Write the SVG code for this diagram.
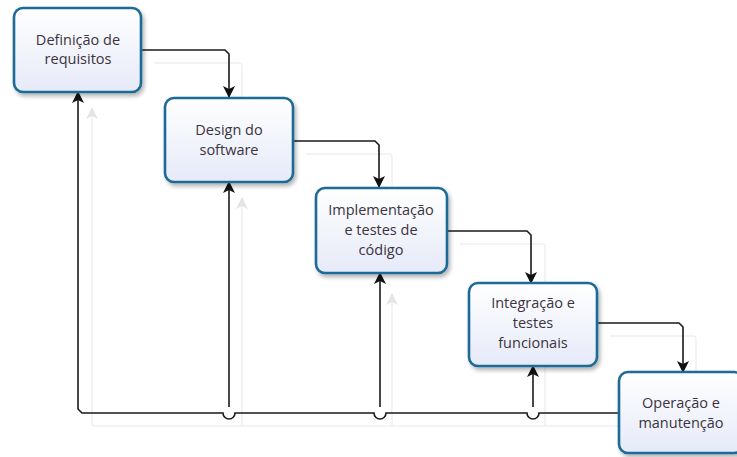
<svg xmlns="http://www.w3.org/2000/svg" width="737" height="457" viewBox="0 0 737 457">
  <style>
    .box { fill: url(#boxFill); stroke: #1d6a96; stroke-width: 2.6; filter: url(#shadow); }
    .lbl { font-family: "Open Sans", "Noto Sans", sans-serif; font-size: 14.5px; fill: #3a3340; text-anchor: middle; }
    .wire { fill: none; stroke: #1a1a1a; stroke-width: 1.6; }
    .ghost { fill: none; stroke: #f0f0f0; stroke-width: 1.6; }
  </style>
  <defs>
    <linearGradient id="boxFill" x1="0" y1="0" x2="0" y2="1">
      <stop offset="0" stop-color="#ffffff"/>
      <stop offset="1" stop-color="#e6eaf8"/>
    </linearGradient>
    <filter id="shadow" x="-10%" y="-10%" width="130%" height="130%">
      <feGaussianBlur in="SourceAlpha" stdDeviation="2"/>
      <feOffset dx="2" dy="3" result="b"/>
      <feComponentTransfer><feFuncA type="linear" slope="0.3"/></feComponentTransfer>
      <feMerge><feMergeNode/><feMergeNode in="SourceGraphic"/></feMerge>
    </filter>
    <marker id="arrow" viewBox="0 0 12 12" refX="11" refY="6" markerWidth="12" markerHeight="12" markerUnits="userSpaceOnUse" orient="auto">
      <path d="M0,0 L12,6 L0,12 L3,6 z" fill="#111"/>
    </marker>
    <marker id="ghostArrow" viewBox="0 0 12 12" refX="11" refY="6" markerWidth="12" markerHeight="12" markerUnits="userSpaceOnUse" orient="auto">
      <path d="M0,0 L12,6 L0,12 L3,6 z" fill="#e4e4e4"/>
    </marker>
  </defs>

  <!-- faint reflected copies of the connectors -->
  <g id="ghost-connectors">
    <path class="ghost" d="M154,63 H239 Q242,63 242,66 V108"/>
    <path class="ghost" d="M306,154 H389 Q392,154 392,157 V198"/>
    <path class="ghost" d="M460,244 H542 Q545,244 545,247 V294"/>
    <path class="ghost" d="M610,336 H693 Q696,336 696,339 V384"/>
    <path class="ghost" d="M631,426 H95 Q92,426 92,423 V108" marker-end="url(#ghostArrow)"/>
    <path class="ghost" d="M242,426 V198" marker-end="url(#ghostArrow)"/>
    <path class="ghost" d="M392,426 V294" marker-end="url(#ghostArrow)"/>
    <path class="ghost" d="M545,426 V342" marker-end="url(#ghostArrow)"/>
  </g>

  <!-- connectors -->
  <g id="connectors">
    <path class="wire" d="M141,50 H225 L229,54 V97" marker-end="url(#arrow)"/>
    <path class="wire" d="M293,141 H375 L379,145 V187" marker-end="url(#arrow)"/>
    <path class="wire" d="M447,231 H527 L531,235 V283" marker-end="url(#arrow)"/>
    <path class="wire" d="M597,323 H679 L683,327 V372" marker-end="url(#arrow)"/>
    <path class="wire" d="M618,413 H539 A6,6 0 0 1 527,413 H386 A6,6 0 0 1 374,413 H235 A6,6 0 0 1 223,413 H82 L78,409 V92" marker-end="url(#arrow)"/>
    <path class="wire" d="M229,407 V182" marker-end="url(#arrow)"/>
    <path class="wire" d="M380,407 V273" marker-end="url(#arrow)"/>
    <path class="wire" d="M533,407 V366" marker-end="url(#arrow)"/>
  </g>

  <g id="n1">
    <rect class="box" x="14" y="8" width="127" height="84" rx="9"/>
    <text class="lbl" x="78" y="45">Definição de</text>
    <text class="lbl" x="78" y="64">requisitos</text>
  </g>
  <g id="n2">
    <rect class="box" x="165" y="98" width="128" height="84" rx="9"/>
    <text class="lbl" x="229" y="135">Design do</text>
    <text class="lbl" x="229" y="155">software</text>
  </g>
  <g id="n3">
    <rect class="box" x="316" y="188" width="131" height="85" rx="9"/>
    <text class="lbl" x="381" y="215">Implementação</text>
    <text class="lbl" x="381" y="235">e testes de</text>
    <text class="lbl" x="381" y="255">código</text>
  </g>
  <g id="n4">
    <rect class="box" x="469" y="283" width="128" height="83" rx="9"/>
    <text class="lbl" x="533" y="308">Integração e</text>
    <text class="lbl" x="533" y="328">testes</text>
    <text class="lbl" x="533" y="348">funcionais</text>
  </g>
  <g id="n5">
    <rect class="box" x="619" y="372" width="124" height="81" rx="9"/>
    <text class="lbl" x="681" y="408">Operação e</text>
    <text class="lbl" x="681" y="428">manutenção</text>
  </g>
</svg>
